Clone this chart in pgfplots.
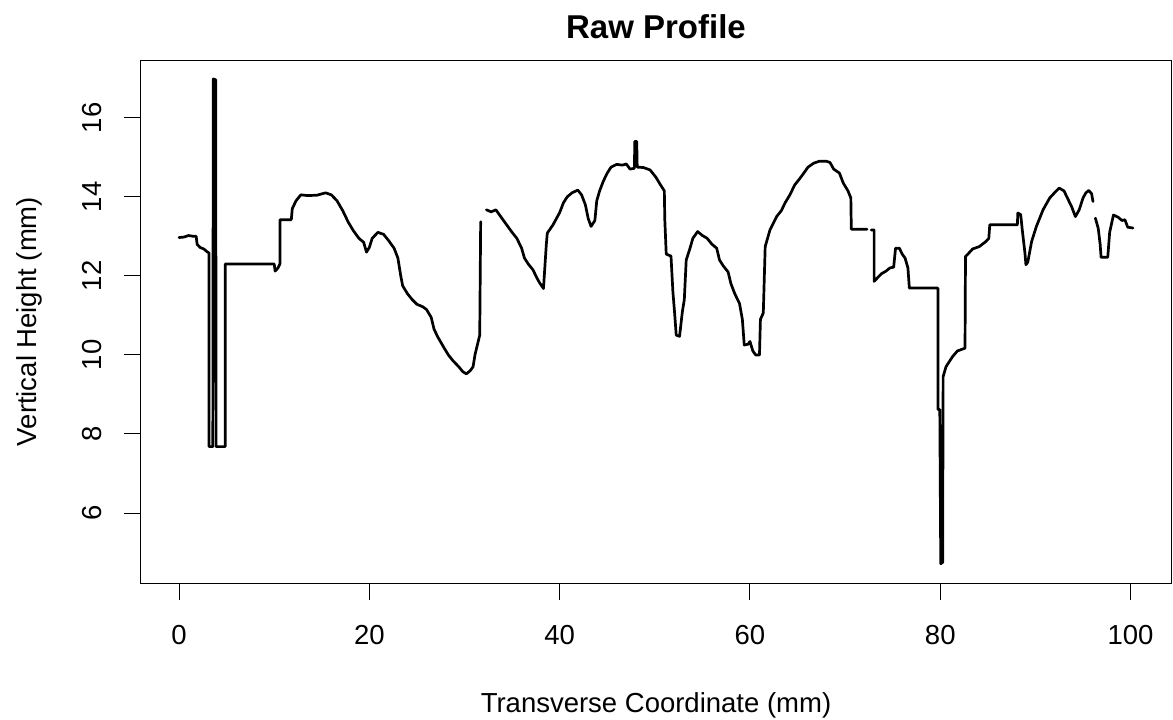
\documentclass[border=0pt]{standalone}
\usepackage{pgfplots}
\pgfplotsset{compat=1.18}
\usepackage{fontspec}
\setmainfont{Liberation Sans}
\begin{document}
\begin{tikzpicture}
\useasboundingbox (-70.25pt,-68pt) rectangle (516.25pt,291.5pt);
\begin{axis}[
  at={(0,0)}, anchor=south west,
  scale only axis, width=515.5pt, height=261.5pt,
  xmin=-4.05, xmax=104.3, ymin=4.23, ymax=17.46,
  axis line style={black, line width=0.5pt},
  xtick={0,20,40,60,80,100}, ytick={6,8,10,12,14,16},
  xtick pos=left, ytick pos=left,
  tick align=outside, major tick length=8.5pt,
  tick style={black, line width=0.5pt},
  minor tick num=0,
  /pgf/number format/assume math mode=true,
  ticklabel style={font=\fontsize{13.75}{16}\selectfont},
  xticklabel style={anchor=base, yshift=-22.2pt, inner sep=0pt},
  yticklabel style={xshift=-11.25pt, rotate=90, anchor=base, inner sep=0pt},
  title={Raw Profile},
  title style={at={(axis description cs:0.5,1)}, anchor=base, yshift=4.75pt, inner sep=0pt, font=\bfseries\fontsize{16.5}{20}\selectfont},
  xlabel={Transverse Coordinate (mm)},
  xlabel style={at={(axis description cs:0.5,0)}, anchor=base, yshift=-64.9pt, inner sep=0pt, font=\fontsize{13.75}{16}\selectfont},
  ylabel={Vertical Height (mm)},
  ylabel style={at={(axis description cs:-0.1004,0.5)}, anchor=base, inner sep=0pt, font=\fontsize{13.75}{16}\selectfont},
  unbounded coords=jump,
]
\addplot[black, line width=1.35pt, line join=round, line cap=round] coordinates {
(0,12.97)(0.5,12.98)(1.0,13.02)(1.5,13.0)(1.8,13.0)(1.9,12.8)(2.2,12.72)(2.6,12.68)(3.0,12.6)(3.15,12.58)
(3.15,7.68)(3.55,7.68)(3.6,16.98)(3.85,16.96)(3.9,7.68)(4.85,7.68)(4.85,12.30)(10.0,12.30)(10.1,12.12)(10.4,12.2)
(10.6,12.3)(10.6,13.42)(11.8,13.42)(11.9,13.7)(12.3,13.9)(12.8,14.05)(13.5,14.03)(14.5,14.04)(15.4,14.1)(16.0,14.05)
(16.6,13.9)(17.2,13.65)(17.8,13.35)(18.3,13.15)(18.9,12.95)(19.4,12.85)(19.7,12.6)(20.0,12.72)(20.3,12.95)(20.9,13.1)
(21.5,13.05)(22.0,12.9)(22.6,12.7)(23.0,12.45)(23.3,12.0)(23.5,11.75)(24.0,11.55)(24.5,11.4)(25.0,11.28)(25.6,11.22)
(26.0,11.15)(26.5,10.95)(26.8,10.65)(27.2,10.45)(27.8,10.2)(28.3,10.0)(28.8,9.85)(29.4,9.7)(29.8,9.58)(30.2,9.52)
(30.6,9.6)(30.9,9.7)(31.1,10.0)(31.4,10.3)(31.6,10.5)(31.7,13.37)
(32.0,nan)
(32.3,13.67)(32.8,13.62)(33.3,13.67)(33.8,13.5)(34.4,13.3)(35.0,13.1)(35.5,12.95)(36.0,12.7)(36.3,12.45)(36.7,12.3)
(37.2,12.15)(37.6,11.95)(37.9,11.82)(38.3,11.68)(38.6,12.8)(38.7,13.08)(39.3,13.29)(40.0,13.6)(40.4,13.85)(40.8,14.0)
(41.3,14.1)(41.9,14.17)(42.3,14.05)(42.7,13.8)(43.0,13.45)(43.3,13.25)(43.7,13.4)(43.9,13.9)(44.2,14.15)(44.6,14.4)
(45.0,14.6)(45.4,14.75)(46.0,14.82)(46.6,14.8)(47.0,14.83)(47.4,14.7)(47.85,14.72)(47.9,15.40)(48.1,15.40)(48.15,14.75)
(48.8,14.74)(49.5,14.68)(50.1,14.5)(50.6,14.3)(51.0,14.15)(51.05,13.42)(51.2,12.55)(51.7,12.5)(51.9,11.6)(52.1,11.0)
(52.25,10.5)(52.6,10.47)(52.9,11.1)(53.1,11.4)(53.3,12.4)(53.7,12.7)(54.0,12.95)(54.5,13.12)(55.0,13.02)(55.5,12.95)
(56.0,12.8)(56.5,12.7)(56.8,12.4)(57.2,12.25)(57.7,12.1)(58.0,11.8)(58.4,11.55)(58.9,11.3)(59.2,10.9)(59.4,10.25)
(59.8,10.27)(60.0,10.34)(60.3,10.1)(60.6,10.0)(61.0,10.0)(61.1,10.9)(61.4,11.06)(61.6,12.74)(62.1,13.16)(62.8,13.5)
(63.3,13.65)(63.7,13.85)(64.2,14.05)(64.7,14.3)(65.2,14.45)(65.6,14.58)(66.1,14.75)(66.7,14.85)(67.3,14.9)(68.0,14.9)
(68.4,14.87)(68.8,14.7)(69.4,14.6)(69.8,14.35)(70.3,14.15)(70.6,13.97)(70.65,13.18)(72.3,13.18)
(72.5,nan)
(72.75,13.16)(73.05,13.16)(73.05,11.86)(73.4,11.95)(73.8,12.05)(74.3,12.12)(74.7,12.2)(75.1,12.22)(75.3,12.7)(75.7,12.7)
(76.0,12.55)(76.3,12.45)(76.6,12.2)(76.75,11.69)(79.75,11.69)(79.75,8.62)(79.95,8.62)(80.05,4.72)(80.25,4.75)(80.3,9.45)
(80.6,9.7)(81.0,9.85)(81.3,9.96)(81.8,10.1)(82.6,10.17)(82.65,12.49)(82.9,12.55)(83.4,12.68)(84.1,12.74)(84.8,12.87)
(85.1,12.95)(85.2,13.29)(88.1,13.29)(88.15,13.59)(88.45,13.55)(88.6,13.2)(88.9,12.57)(89.0,12.28)(89.2,12.35)(89.6,12.87)
(90.1,13.25)(90.8,13.67)(91.5,13.97)(92.0,14.1)(92.5,14.22)(93.0,14.15)(93.3,14.0)(93.8,13.75)(94.2,13.5)(94.6,13.67)
(95.0,13.97)(95.3,14.1)(95.6,14.16)(95.9,14.08)(96.05,13.88)
(96.2,nan)
(96.3,13.46)(96.6,13.2)(96.8,12.8)(96.9,12.47)(97.6,12.47)(97.8,13.1)(98.2,13.54)(98.7,13.48)(99.1,13.4)(99.4,13.42)
(99.7,13.23)(100.25,13.21)
};
\end{axis}
\end{tikzpicture}
\end{document}
